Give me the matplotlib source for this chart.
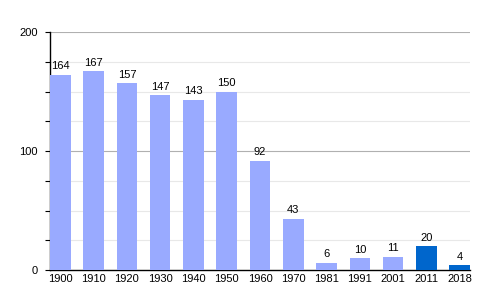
import matplotlib
matplotlib.use("Agg")
import matplotlib.pyplot as plt
import numpy as np

years = ["1900", "1910", "1920", "1930", "1940", "1950", "1960", "1970", "1981", "1991", "2001", "2011", "2018"]
population = [164, 167, 157, 147, 143, 150, 92, 43, 6, 10, 11, 20, 4]
highlight = [False]*11 + [True, True]

plt.rcParams['font.family'] = ['Liberation Sans', 'DejaVu Sans']
fig = plt.figure(figsize=(5, 3), dpi=100)
ax = fig.add_axes([0.1, 0.1, 0.84, 0.793])

x = np.arange(len(years))
colors = ["#0066cc" if h else "#99aaff" for h in highlight]
w = 0.62
ax.bar(x, population, width=w, color=colors, zorder=3)
for xi, v in zip(x, population):
    ax.text(xi, v + 3, str(v), ha='center', va='bottom', fontsize=8, zorder=4)

ax.set_xlim(-w/2, len(years) - 1 + w/2)
ax.set_ylim(0, 200)
for y in range(25, 200, 25):
    if y % 100 == 0:
        continue
    ax.axhline(y, color="#e8e8e8", lw=0.8, zorder=1)
for y in [100, 200]:
    ax.axhline(y, color="#b0b0b0", lw=0.8, zorder=1)

ax.set_xticks(x)
ax.set_xticklabels(years, fontsize=8)
ax.tick_params(axis='x', length=0, pad=3)
ax.set_yticks([0, 100, 200])
ax.set_yticklabels(["0", "100", "200"], fontsize=8)
ax.set_yticks(np.arange(0, 201, 25), minor=True)
ax.tick_params(axis='y', which='both', length=3.8, width=0.8, direction='out', pad=5)

for s in ['top', 'right']:
    ax.spines[s].set_visible(False)
ax.spines['left'].set_linewidth(1.0)
ax.spines['bottom'].set_linewidth(1.0)

fig.savefig("out.png", dpi=100)
